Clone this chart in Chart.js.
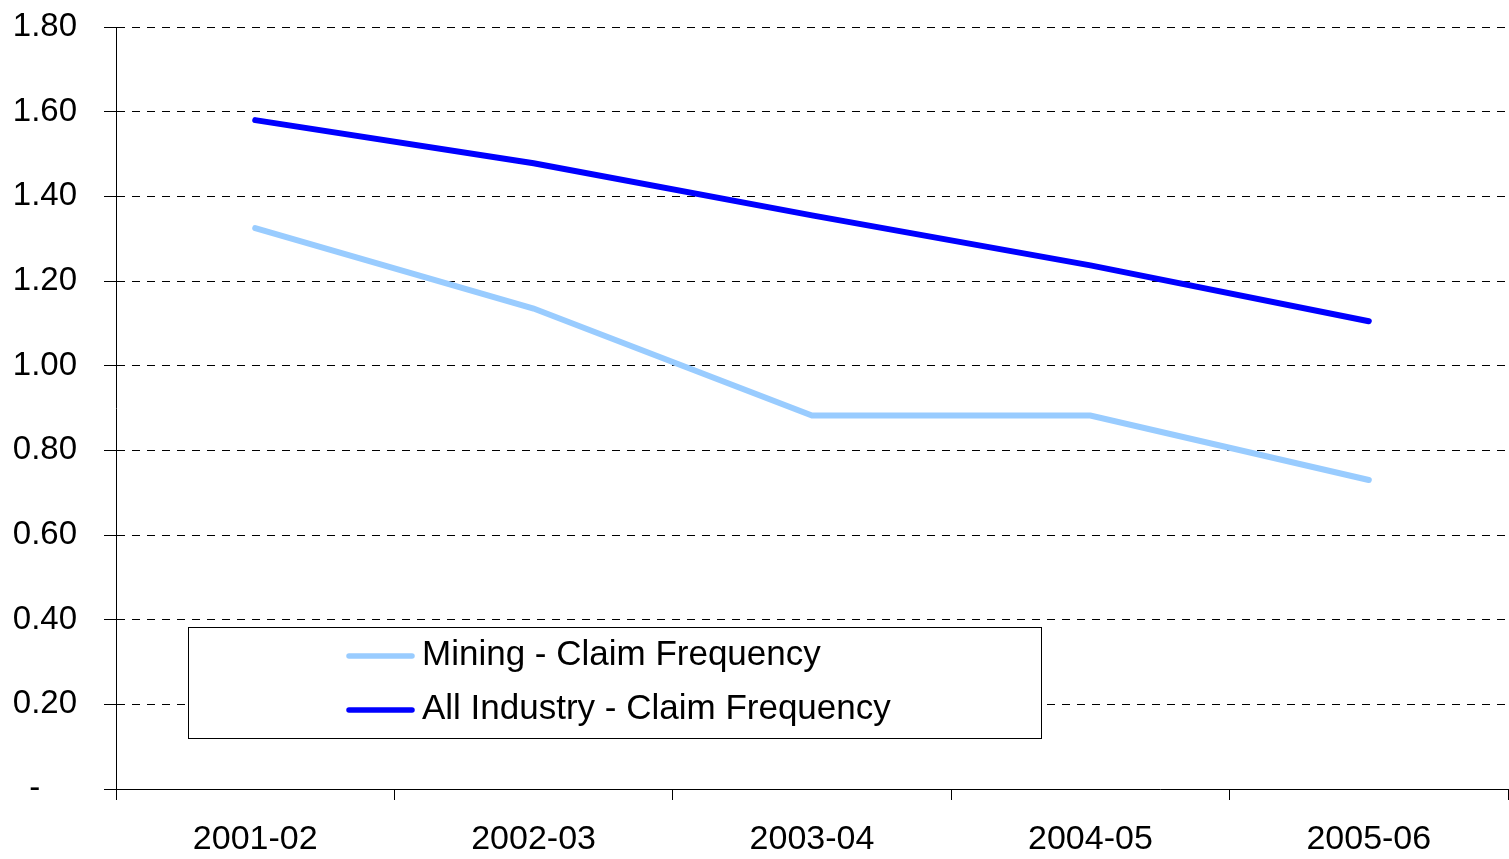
<!DOCTYPE html>
<html>
<head>
<meta charset="utf-8">
<script src="https://cdn.jsdelivr.net/npm/chart.js@4/dist/chart.umd.min.js"></script>
<style>
html,body{margin:0;padding:0;background:#fff;}
#wrap{width:1509px;height:859px;position:relative;}
</style>
</head>
<body>
<div id="wrap"><canvas id="c" width="1509" height="859"></canvas></div>
<script>
const categories = ['2001-02','2002-03','2003-04','2004-05','2005-06'];
const miningValues = [1.325, 1.135, 0.882, 0.882, 0.730];
const allIndustryValues = [1.580, 1.478, 1.355, 1.237, 1.105];
const seriesLabels = ['Mining - Claim Frequency','All Industry - Claim Frequency'];
const yTicks = [0, 0.2, 0.4, 0.6, 0.8, 1.0, 1.2, 1.4, 1.6, 1.8];

const FONT = '"Liberation Sans", Arial, sans-serif';

const legendBox = {
  id: 'legendBox',
  afterDatasetsDraw(chart) {
    const ctx = chart.ctx;
    ctx.save();
    ctx.fillStyle = '#fff';
    ctx.fillRect(188, 627, 853, 111);
    ctx.strokeStyle = '#000';
    ctx.lineWidth = 1;
    ctx.strokeRect(188.5, 627.5, 853, 111);
    const rows = [{ly: 656, ty: 665}, {ly: 710, ty: 719}];
    chart.data.datasets.forEach((ds, i) => {
      const r = rows[i];
      ctx.strokeStyle = ds.borderColor;
      ctx.lineWidth = 5.5;
      ctx.lineCap = 'round';
      ctx.beginPath();
      ctx.moveTo(349, r.ly);
      ctx.lineTo(412, r.ly);
      ctx.stroke();
      ctx.fillStyle = '#000';
      ctx.font = '35px ' + FONT;
      ctx.textBaseline = 'alphabetic';
      ctx.textAlign = 'left';
      ctx.fillText(ds.label, 422, r.ty);
    });
    ctx.restore();
  }
};

new Chart(document.getElementById('c'), {
  type: 'line',
  data: {
    labels: categories,
    datasets: [
      {label: seriesLabels[0], data: miningValues, borderColor: '#99CCFF', backgroundColor: '#99CCFF',
       borderWidth: 6, pointRadius: 0, tension: 0, borderCapStyle: 'round', borderJoinStyle: 'miter'},
      {label: seriesLabels[1], data: allIndustryValues, borderColor: '#0000FF', backgroundColor: '#0000FF',
       borderWidth: 6, pointRadius: 0, tension: 0, borderCapStyle: 'round', borderJoinStyle: 'miter'}
    ]
  },
  options: {
    responsive: false,
    animation: false,
    devicePixelRatio: 1,
    layout: {padding: {top: 27, right: 1, left: 0, bottom: 0}},
    plugins: {legend: {display: false}, tooltip: {enabled: false}, title: {display: false}},
    scales: {
      x: {
        offset: true,
        grid: {display: true, drawOnChartArea: false, drawTicks: true, offset: true, tickLength: 11, tickColor: '#000', tickWidth: 1},
        border: {display: true, color: '#000', width: 1},
        ticks: {color: '#000', font: {family: FONT, size: 34}, padding: 19, maxRotation: 0, autoSkip: false},
        afterFit(s) { s.height = 70; s.paddingLeft = 0; s.paddingRight = 0; }
      },
      y: {
        min: 0, max: 1.8,
        afterBuildTicks(s) { s.ticks = yTicks.map(v => ({value: v})); },
        grid: {color: '#000', lineWidth: 1, tickLength: 12, tickColor: '#000', tickBorderDash: []},
        border: {display: true, color: '#000', width: 1, dash: [8, 7]},
        ticks: {color: '#000', font: {family: FONT, size: 33}, padding: 27,
          callback: v => v === 0 ? '-    ' : Number(v).toFixed(2)},
        afterFit(s) { s.width = 116; s.paddingTop = 0; s.paddingBottom = 0; }
      }
    }
  },
  plugins: [legendBox]
});
</script>
</body>
</html>
